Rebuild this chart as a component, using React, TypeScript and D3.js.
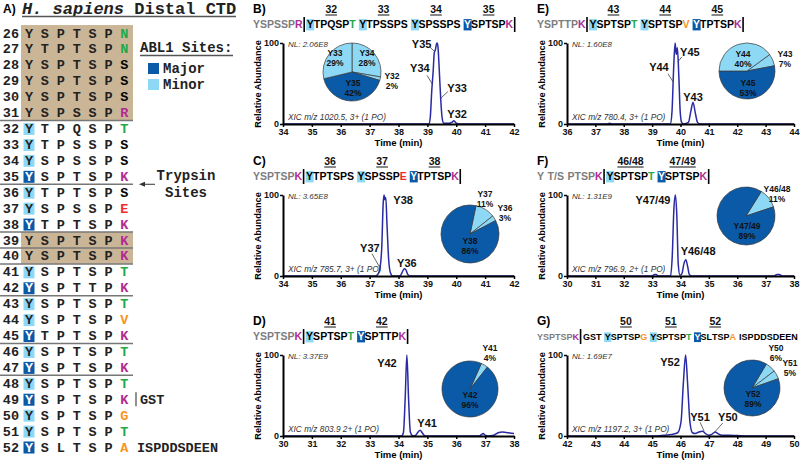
import React, { useEffect, useRef } from "react";
import * as d3 from "d3";

const W = 800;
const H = 465;
const SANS = "'Liberation Sans', Arial, sans-serif";
const MONO = "'Liberation Mono', 'Courier New', monospace";

const GREEN = "#22a84a";
const MAGENTA = "#b02a93";
const RED = "#ee2a2a";
const ORANGE = "#f7931e";
const GRAY = "#7d7d7d";
const LIGHT = "#8dd9f5";
const DARK = "#0b5aa7";
const TAN = "#cab696";
const TRACE = "#2a2aa4";

// ---- panel A: distal CTD repeats 26..52
const firstRepeat = 26;
const ctdRepeats = [
  "YSPTSPN", "YTPTSPN", "YSPTSPS", "YSPTSPS", "YSPTSPS", "YSPSSPR",
  "YTPQSPT", "YTPSSPS", "YSPSSPS", "YSPTSPK", "YTPTSPS", "YSPSSPE",
  "YTPTSPK", "YSPTSPK", "YSPTSPK", "YSPTSPT", "YSPTTPK", "YSPTSPT",
  "YSPTSPV", "YTPTSPK", "YSPTSPT", "YSPTSPK", "YSPTSPT", "YSPTSPK",
  "YSPTSPG", "YSPTSPT", "YSLTSPA",
];
const tanRows = [26, 27, 28, 29, 30, 31, 39, 40];
const majorSites = [35, 38, 42, 45, 47, 49, 52];
const minorSites = [32, 33, 34, 36, 37, 41, 43, 44, 46, 48, 50, 51];
const dividerRows = [31, 35, 38, 39, 40, 42, 45, 47];

// ---- chromatogram traces [time (min), relative abundance]
const traceB: [number, number][] = [
  [34, 0], [38.9, 0], [39.05, 0], [39.1, 8], [39.15, 40], [39.2, 65], [39.24, 88],
  [39.28, 92], [39.31, 98], [39.34, 100], [39.37, 94], [39.41, 68], [39.46, 32],
  [39.51, 8], [39.57, 1], [39.75, 1], [39.85, 2], [39.92, 4], [40.0, 1], [40.1, 0], [42, 0],
];
const traceC: [number, number][] = [
  [34, 0], [37.2, 0], [37.3, 3], [37.36, 10], [37.42, 35], [37.47, 90], [37.5, 100],
  [37.53, 94], [37.56, 97], [37.6, 65], [37.66, 20], [37.72, 4], [37.8, 0], [38.05, 0],
  [38.12, 4], [38.2, 9], [38.25, 8], [38.32, 2], [38.4, 0], [42, 0],
];
const traceD: [number, number][] = [
  [30, 0], [34.1, 0], [34.17, 4], [34.23, 45], [34.29, 100], [34.35, 45], [34.41, 5],
  [34.5, 0], [34.6, 1], [34.68, 5], [34.75, 7], [34.82, 4], [34.92, 0], [36.8, 0],
  [36.88, 2], [36.93, 3], [37.0, 1], [37.1, 0], [37.3, 1], [37.45, 4], [37.6, 5],
  [37.8, 4], [38, 3],
];
const traceE: [number, number][] = [
  [36, 0], [37.4, 0], [37.5, 1], [37.6, 0], [39.64, 0], [39.7, 15], [39.76, 70],
  [39.81, 100], [39.85, 86], [39.89, 94], [39.94, 60], [39.99, 15], [40.04, 2],
  [40.12, 0], [40.28, 2], [40.36, 15], [40.44, 27], [40.52, 14], [40.6, 2], [40.7, 0], [44, 0],
];
const traceF: [number, number][] = [
  [30, 0], [33.0, 0], [33.08, 2], [33.14, 2], [33.22, 0], [33.65, 0], [33.71, 25],
  [33.77, 85], [33.82, 100], [33.87, 75], [33.92, 15], [33.98, 1], [34.05, 3],
  [34.12, 15], [34.19, 20], [34.25, 12], [34.31, 2], [34.4, 0], [37.3, 0], [37.4, 2],
  [37.48, 2], [37.58, 0], [38, 0],
];
const traceG: [number, number][] = [
  [42, 0], [45.2, 0], [45.4, 1], [45.7, 2], [45.9, 4], [46.02, 18], [46.1, 65],
  [46.18, 100], [46.25, 65], [46.33, 18], [46.42, 4], [46.52, 3], [46.65, 5],
  [46.78, 6], [46.88, 3], [47.0, 1], [47.1, 2], [47.22, 5], [47.32, 3], [47.45, 1],
  [47.7, 1], [48.0, 0.5], [48.3, 0], [50, 0],
];

// ---- pie charts (site occupancy %)
const pieBNames = ["Y34", "Y32", "Y35", "Y33"];
const pieBValues = [28, 2, 42, 29];
const pieBKinds = ["minor", "minor", "major", "minor"];
const pieCNames = ["Y37", "Y36", "Y38"];
const pieCValues = [11, 3, 86];
const pieCKinds = ["minor", "minor", "major"];
const pieDNames = ["Y41", "Y42"];
const pieDValues = [4, 96];
const pieDKinds = ["minor", "major"];
const pieENames = ["Y43", "Y45", "Y44"];
const pieEValues = [7, 53, 40];
const pieEKinds = ["minor", "major", "minor"];
const pieFNames = ["Y46/48", "Y47/49"];
const pieFValues = [11, 89];
const pieFKinds = ["minor", "major"];
const pieGNames = ["Y50", "Y51", "Y52"];
const pieGValues = [6, 5, 89];
const pieGKinds = ["minor", "minor", "major"];

// ---- peak annotations (time, abundance), optional leader line
type Peak = { name: string; t: number; v: number; line?: [number, number, number, number] };
const peaksB: Peak[] = [
  { name: "Y35", t: 38.8, v: 99, line: [39.09, 95, 39.26, 89] },
  { name: "Y34", t: 38.74, v: 69, line: [38.99, 60, 39.19, 48] },
  { name: "Y33", t: 40.03, v: 44, line: [39.71, 40, 39.47, 32] },
  { name: "Y32", t: 40.03, v: 12 },
];
const peaksC: Peak[] = [
  { name: "Y38", t: 38.16, v: 94 },
  { name: "Y37", t: 37.01, v: 35, line: [37.08, 27.5, 37.36, 10] },
  { name: "Y36", t: 38.29, v: 16 },
];
const peaksD: Peak[] = [
  { name: "Y42", t: 33.6, v: 90 },
  { name: "Y41", t: 34.99, v: 16 },
];
const peaksE: Peak[] = [
  { name: "Y44", t: 39.24, v: 70, line: [39.56, 62, 39.74, 52] },
  { name: "Y45", t: 40.33, v: 89, line: [40.05, 83, 39.91, 77] },
  { name: "Y43", t: 40.44, v: 33 },
];
const peaksF: Peak[] = [
  { name: "Y47/49", t: 33.03, v: 94 },
  { name: "Y46/48", t: 34.62, v: 31 },
];
const peaksG: Peak[] = [
  { name: "Y52", t: 45.63, v: 91 },
  { name: "Y51", t: 46.69, v: 23, line: [46.69, 17, 46.83, 6] },
  { name: "Y50", t: 47.67, v: 23, line: [47.49, 16, 47.21, 5] },
];

const COLS = [
  { label: 253, axis: 283, end: 514, ylab: 258 },
  { label: 537, axis: 567, end: 794, ylab: 542 },
];
const ROWS = [0, 152, 312];

const panels = [
  {
    letter: "B)", col: 0, row: 0, domain: [34, 42], nl: "NL: 2.06E8", xic: "XIC m/z 1020.5, 3+ (1 PO)",
    prefix: "YSPSSPR", lead: "", hepts: ["YTPQSPT", "YTPSSPS", "YSPSSPS", "YSPTSPK"],
    sites: ["32", "33", "34", "35"], kinds: ["minor", "minor", "minor", "major"], endBar: true, tail: "", seqSize: 10.5,
    trace: traceB, peaks: peaksB,
    pie: { names: pieBNames, values: pieBValues, kinds: pieBKinds, cx: 352, cy: 72, r: 29, start: 0,
      offs: [[15, -15], [40, 8], [1, 15], [-17, -15]] },
  },
  {
    letter: "C)", col: 0, row: 1, domain: [34, 42], nl: "NL: 3.65E8", xic: "XIC m/z 785.7, 3+ (1 PO)",
    prefix: "YSPTSPK", lead: "", hepts: ["YTPTSPS", "YSPSSPE", "YTPTSPK"],
    sites: ["36", "37", "38"], kinds: ["minor", "minor", "major"], endBar: true, tail: "", seqSize: 10.5,
    trace: traceC, peaks: peaksC,
    pie: { names: pieCNames, values: pieCValues, kinds: pieCKinds, cx: 470, cy: 234, r: 29, start: 12,
      offs: [[15, -36], [35, -22], [0, 11]] },
  },
  {
    letter: "D)", col: 0, row: 2, domain: [30, 38], nl: "NL: 3.37E9", xic: "XIC m/z 803.9 2+ (1 PO)",
    prefix: "YSPTSPK", lead: "", hepts: ["YSPTSPT", "YSPTTPK"],
    sites: ["41", "42"], kinds: ["minor", "major"], endBar: true, tail: "", seqSize: 10.5,
    trace: traceD, peaks: peaksD,
    pie: { names: pieDNames, values: pieDValues, kinds: pieDKinds, cx: 470, cy: 389, r: 28, start: 24,
      offs: [[20, -37], [0, 10]] },
  },
  {
    letter: "E)", col: 1, row: 0, domain: [36, 44], nl: "NL: 1.60E8", xic: "XIC m/z 780.4, 3+ (1 PO)",
    prefix: "YSPTTPK", lead: "", hepts: ["YSPTSPT", "YSPTSPV", "YTPTSPK"],
    sites: ["43", "44", "45"], kinds: ["minor", "minor", "major"], endBar: true, tail: "", seqSize: 10.5,
    trace: traceE, peaks: peaksE,
    pie: { names: pieENames, values: pieEValues, kinds: pieEKinds, cx: 747, cy: 71, r: 28, start: 54,
      offs: [[38, -13], [1, 16], [-4, -13]] },
  },
  {
    letter: "F)", col: 1, row: 1, domain: [30, 38], nl: "NL: 1.31E9", xic: "XIC m/z 796.9, 2+ (1 PO)",
    prefix: "Y T/S PTSPK", lead: "", hepts: ["YSPTSPT", "YSPTSPK"],
    sites: ["46/48", "47/49"], kinds: ["minor", "major"], endBar: true, tail: "", seqSize: 10.5,
    trace: traceF, peaks: peaksF,
    pie: { names: pieFNames, values: pieFValues, kinds: pieFKinds, cx: 746, cy: 216, r: 29, start: 32,
      offs: [[31, -23], [1, 14]] },
  },
  {
    letter: "G)", col: 1, row: 2, domain: [42, 50], nl: "NL: 1.69E7", xic: "XIC m/z 1197.2, 3+ (1 PO)",
    prefix: "YSPTSPK", lead: "GST", hepts: ["YSPTSPG", "YSPTSPT", "YSLTSPA"],
    sites: ["50", "51", "52"], kinds: ["minor", "minor", "major"], endBar: false, tail: "ISPDDSDEEN", seqSize: 9,
    trace: traceG, peaks: peaksG,
    pie: { names: pieGNames, values: pieGValues, kinds: pieGKinds, cx: 752, cy: 388, r: 28, start: 31,
      offs: [[24, -36], [38, -21], [1, 10]] },
  },
];

function endColor(ch: string) {
  if (ch === "T" || ch === "N") return GREEN;
  if (ch === "K" || ch === "R") return MAGENTA;
  if (ch === "E") return RED;
  if (ch === "V" || ch === "G" || ch === "A") return ORANGE;
  return "#000";
}

function drawPanelA(svg: any) {
  const g = svg.append("g").attr("font-family", MONO).attr("font-weight", "bold");
  const ry = d3.scaleLinear().domain([26, 52]).range([33, 447]);
  const cx = d3.scaleLinear().domain([0, 6]).range([29, 124.4]);
  const half = (ry(27) - ry(26)) / 2;

  // title
  g.append("text").attr("x", 3).attr("y", 13).attr("font-family", SANS).attr("font-size", 12).text("A)");
  const title = g.append("text").attr("x", 22).attr("y", 14).attr("font-size", 17).attr("fill", "#222");
  title.append("tspan").attr("font-style", "italic").text("H. sapiens");
  title.append("tspan").text(" Distal CTD");
  g.append("line").attr("x1", 22).attr("x2", 236).attr("y1", 16.5).attr("y2", 16.5).attr("stroke", "#555").attr("stroke-width", 1.3);

  // tan blocks
  const blocks: number[][] = [];
  tanRows.forEach((n) => {
    const last = blocks[blocks.length - 1];
    if (last && last[1] === n - 1) last[1] = n;
    else blocks.push([n, n]);
  });
  blocks.forEach(([a, b]) => {
    g.append("rect").attr("x", 21).attr("width", 112).attr("y", ry(a) - half)
      .attr("height", ry(b) - ry(a) + 2 * half).attr("fill", TAN);
  });

  ctdRepeats.forEach((s, i) => {
    const n = firstRepeat + i;
    const y = ry(n);
    const kind = majorSites.includes(n) ? "major" : minorSites.includes(n) ? "minor" : null;
    if (kind) {
      g.append("rect").attr("x", cx(0) - 5.5).attr("y", y - 5.5).attr("width", 11).attr("height", 12)
        .attr("fill", kind === "major" ? DARK : LIGHT);
    }
    g.append("text").attr("x", 19).attr("y", y + 4.5).attr("text-anchor", "end").attr("font-size", 13.5)
      .attr("fill", "#222").text(String(n));
    s.split("").forEach((ch, j) => {
      g.append("text").attr("x", cx(j)).attr("y", y + 4.5).attr("text-anchor", "middle").attr("font-size", 13.5)
        .attr("fill", j === 0 && kind === "major" ? "#fff" : j === 6 ? endColor(ch) : "#222").text(ch);
    });
  });

  dividerRows.forEach((n) => {
    g.append("line").attr("x1", 0).attr("x2", 133).attr("y1", ry(n) + half).attr("y2", ry(n) + half)
      .attr("stroke", "#777").attr("stroke-width", 1.5);
  });

  // GST fusion and C-terminal tail
  g.append("line").attr("x1", 136).attr("x2", 136).attr("y1", ry(49) - 7).attr("y2", ry(49) + 7)
    .attr("stroke", "#555").attr("stroke-width", 1.3);
  g.append("text").attr("x", 140).attr("y", ry(49) + 4.5).attr("font-size", 13.5).attr("fill", "#222").text("GST");
  g.append("text").attr("x", 137).attr("y", ry(52) + 4.5).attr("font-size", 13.5).attr("fill", "#222").text("ISPDDSDEEN");

  // legend
  g.append("text").attr("x", 140).attr("y", 52).attr("font-size", 14).attr("fill", "#222").text("ABL1 Sites:");
  g.append("line").attr("x1", 140).attr("x2", 233).attr("y1", 55.5).attr("y2", 55.5).attr("stroke", "#555").attr("stroke-width", 1.3);
  [["Major", DARK], ["Minor", LIGHT]].forEach(([name, col], i) => {
    g.append("rect").attr("x", 148).attr("y", 63 + i * 16).attr("width", 11).attr("height", 11).attr("fill", col);
    g.append("text").attr("x", 163).attr("y", 73 + i * 16).attr("font-size", 14).attr("fill", "#222").text(name);
  });

  // trypsin sites
  g.append("text").attr("x", 186).attr("y", 180).attr("text-anchor", "middle").attr("font-size", 14).attr("fill", "#222").text("Trypsin");
  g.append("text").attr("x", 186).attr("y", 197).attr("text-anchor", "middle").attr("font-size", 14).attr("fill", "#222").text("Sites");
  const ay = ry(35) + half;
  g.append("line").attr("x1", 155).attr("x2", 142).attr("y1", ay).attr("y2", ay).attr("stroke", "#333").attr("stroke-width", 1);
  g.append("path").attr("d", `M139,${ay}L145,${ay - 2.5}L145,${ay + 2.5}Z`).attr("fill", "#333");
}

function drawSequence(g: any, p: any, x0: number, base: number, numBase: number) {
  const fs = p.seqSize;
  const gap = fs * 0.34;
  let cx = x0;
  const put = (ch: string, fill: string) => {
    const t = g.append("text").attr("x", cx).attr("y", base).attr("font-size", fs).attr("fill", fill).text(ch);
    const node = t.node() as SVGTextElement;
    const w = node.getComputedTextLength();
    const start = cx;
    cx += w;
    return { node, start, w };
  };
  const bar = () => {
    cx += 1.5;
    g.append("line").attr("x1", cx).attr("x2", cx).attr("y1", base - 11).attr("y2", base + 4)
      .attr("stroke", "#000").attr("stroke-width", 1.6);
    cx += 2.5;
  };

  const pre = p.prefix.split("");
  pre.forEach((ch: string, i: number) => {
    if (ch === " ") cx += gap;
    else put(ch, i === pre.length - 1 ? endColor(ch) : GRAY);
  });
  bar();
  if (p.lead) {
    p.lead.split("").forEach((ch: string) => put(ch, "#000"));
    cx += gap;
  }
  p.hepts.forEach((h: string, hi: number) => {
    const hs = cx;
    h.split("").forEach((ch, i) => {
      if (i === 0) {
        const major = p.kinds[hi] === "major";
        const r = put(ch, major ? "#fff" : "#000");
        g.insert("rect", () => r.node).attr("x", r.start - 0.5).attr("y", base - fs * 0.85)
          .attr("width", r.w + 1).attr("height", fs * 1.08).attr("fill", major ? DARK : LIGHT);
      } else put(ch, i === 6 ? endColor(ch) : "#000");
    });
    const mid = (hs + cx) / 2;
    const nt = g.append("text").attr("x", mid).attr("y", numBase).attr("text-anchor", "middle")
      .attr("font-size", 10.5).attr("fill", "#111").text(p.sites[hi]);
    const nw = (nt.node() as SVGTextElement).getComputedTextLength();
    g.append("line").attr("x1", mid - nw / 2).attr("x2", mid + nw / 2).attr("y1", numBase + 2).attr("y2", numBase + 2)
      .attr("stroke", "#111").attr("stroke-width", 1);
    if (hi < p.hepts.length - 1) cx += gap;
  });
  if (p.endBar) bar();
  if (p.tail) {
    cx += gap;
    p.tail.split("").forEach((ch: string) => put(ch, "#000"));
  }
}

function drawPanel(svg: any, p: any) {
  const c = COLS[p.col];
  const top = ROWS[p.row];
  const g = svg.append("g").attr("font-family", SANS).attr("font-weight", "bold");
  const x = d3.scaleLinear().domain(p.domain).range([c.axis, c.end]);
  const y = d3.scaleLinear().domain([0, 100]).range([top + 124, top + 43]);

  g.append("text").attr("x", c.label).attr("y", top + 13).attr("font-size", 12).text(p.letter);
  drawSequence(g, p, c.label, top + 28, top + 13);

  // pie
  const pp = p.pie;
  const a0 = (pp.start * Math.PI) / 180;
  const arcs = d3.pie<number>().sort(null).startAngle(a0).endAngle(a0 + 2 * Math.PI)(pp.values);
  const arc = d3.arc<any>().innerRadius(0).outerRadius(pp.r);
  const pg = g.append("g").attr("transform", `translate(${pp.cx},${pp.cy})`);
  pg.selectAll("path").data(arcs).join("path")
    .attr("d", arc)
    .attr("fill", (d: any, i: number) => (pp.kinds[i] === "major" ? DARK : LIGHT))
    .attr("stroke", "#3a3a3a").attr("stroke-width", 0.7);
  arcs.forEach((d: any, i: number) => {
    const [dx, dy] = pp.offs[i];
    const t = pg.append("text").attr("text-anchor", "middle").attr("font-size", 8.5).attr("fill", "#111");
    t.append("tspan").attr("x", dx).attr("y", dy - 1.5).text(pp.names[i]);
    t.append("tspan").attr("x", dx).attr("y", dy + 8.5).text(`${pp.values[i]}%`);
  });

  // trace
  const line = d3.line<[number, number]>().x((d) => x(d[0])).y((d) => y(d[1])).curve(d3.curveMonotoneX);
  g.append("path").datum(p.trace).attr("d", line).attr("fill", "none").attr("stroke", TRACE).attr("stroke-width", 1.5);

  // axes
  const xa = g.append("g").attr("transform", `translate(0,${top + 124})`)
    .call(d3.axisBottom(x).tickValues(d3.range(p.domain[0], p.domain[1] + 1)).tickSize(3).tickSizeOuter(0).tickPadding(2).tickFormat(d3.format("d")));
  const ya = g.append("g").attr("transform", `translate(${c.axis},0)`)
    .call(d3.axisLeft(y).tickValues([0, 100]).tickSize(3).tickSizeOuter(0).tickPadding(1));
  [xa, ya].forEach((a) => {
    a.select(".domain").attr("stroke", "#000").attr("stroke-width", 2);
    a.selectAll(".tick line").attr("stroke", "#000").attr("stroke-width", 1.5);
    a.selectAll(".tick text").attr("font-family", SANS).attr("font-weight", "bold").attr("font-size", 9).attr("fill", "#111");
  });

  g.append("text").attr("transform", `translate(${c.ylab},${top + 84}) rotate(-90)`).attr("text-anchor", "middle")
    .attr("dy", "0.35em").attr("font-size", 9.2).text("Relative Abundance");
  g.append("text").attr("x", (c.axis + c.end) / 2).attr("y", top + 146).attr("text-anchor", "middle")
    .attr("font-size", 9.5).text("Time (min)");

  g.append("text").attr("x", c.axis + 5).attr("y", top + 47).attr("font-size", 8).attr("font-weight", "normal")
    .attr("font-style", "italic").attr("fill", "#333").text(p.nl);
  g.append("text").attr("x", c.axis + 5).attr("y", top + 120).attr("font-size", 8.3).attr("font-weight", "normal")
    .attr("font-style", "italic").attr("fill", "#333").text(p.xic);

  // peak annotations
  p.peaks.forEach((k: Peak) => {
    if (k.line) {
      g.append("line").attr("x1", x(k.line[0])).attr("y1", y(k.line[1])).attr("x2", x(k.line[2])).attr("y2", y(k.line[3]))
        .attr("stroke", "#444").attr("stroke-width", 0.8);
    }
    g.append("text").attr("x", x(k.t)).attr("y", y(k.v)).attr("dy", "0.36em").attr("text-anchor", "middle")
      .attr("font-size", 11).attr("fill", "#111").text(k.name);
  });
}

export default function App() {
  const ref = useRef<SVGSVGElement>(null);
  useEffect(() => {
    const svg = d3.select(ref.current);
    svg.selectAll("*").remove();
    drawPanelA(svg);
    panels.forEach((p) => drawPanel(svg, p));
  }, []);
  return (
    <svg ref={ref} width={W} height={H} viewBox={`0 0 ${W} ${H}`}
      style={{ position: "absolute", left: 0, top: 0, background: "#fff" }} />
  );
}
